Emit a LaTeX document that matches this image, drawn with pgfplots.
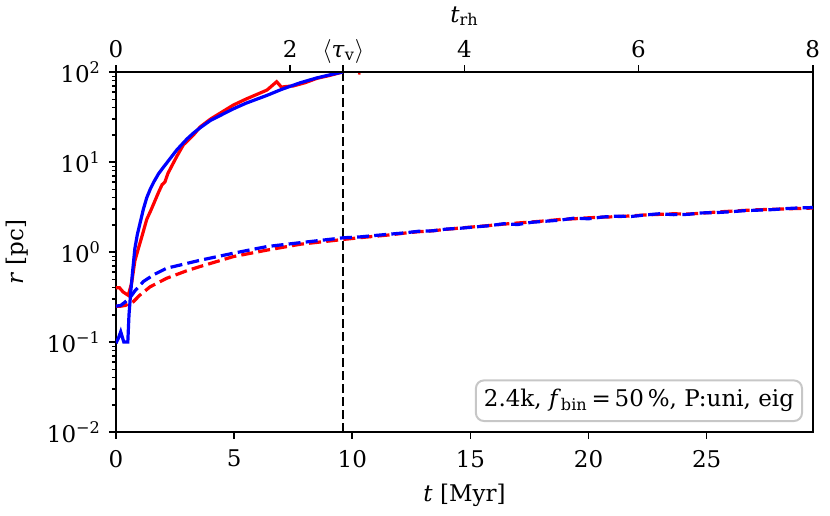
\documentclass[border=0pt]{standalone}
\usepackage{fontspec}
\setmainfont{DejaVu Serif}
\usepackage{pgfplots}
\pgfplotsset{compat=1.18}
\begin{document}
\fontsize{11.5}{13.8}\selectfont
\begin{tikzpicture}
\begin{axis}[
  name=main,
  scale only axis, width=348.5pt, height=180pt,
  xmin=0, xmax=29.5,
  ymode=log, ymin=1e-2, ymax=1e2,
  axis line style={line width=0.9pt},
  tick align=outside,
  xtick pos=left, ytick pos=left,
  major tick length=3.5pt, minor tick length=2pt,
  every tick/.style={black, line width=0.8pt},
  every minor tick/.style={black, line width=0.6pt},
  xtick={0,5,10,15,20,25},
  xticklabels={0,5,10,15,20,25},
  xticklabel style={anchor=north, yshift=-1.5pt},
  ytick={1e-2,1e-1,1,10,100},
  yticklabels={10\textsuperscript{−2},10\textsuperscript{−1},10\textsuperscript{0},10\textsuperscript{1},10\textsuperscript{2}},
  minor ytick={2e-2,3e-2,4e-2,5e-2,6e-2,7e-2,8e-2,9e-2,2e-1,3e-1,4e-1,5e-1,6e-1,7e-1,8e-1,9e-1,2,3,4,5,6,7,8,9,20,30,40,50,60,70,80,90},
  xlabel={\textit{t} [Myr]},
  ylabel={\textit{r} [pc]},
  every axis y label/.style={at={(rel axis cs:0,0.5)}, anchor=center, rotate=90, yshift=49.5pt},
  every axis x label/.style={at={(rel axis cs:0.5,0)}, anchor=base, yshift=-34.5pt},
  clip=true,
]
% vertical line <tau_v>
\addplot[black, line width=1.2pt, dash pattern=on 4.5pt off 2pt] coordinates {(9.62,1e-2) (9.62,1e2)};
% red dashed
\addplot[red, line width=1.6pt, dash pattern=on 6pt off 2.6pt] coordinates {
(0,0.25) (0.2,0.25) (0.4,0.255) (0.6,0.27) (0.73,0.28) (1.0,0.33) (1.44,0.41) (2.14,0.51) (3.0,0.62) (3.56,0.69) (4.97,0.89) (6.39,1.05) (7.8,1.22) (9.63,1.38)
(10.3,1.44) (11,1.50) (11.6,1.55) (12.2,1.62) (12.8,1.68) (13.4,1.72) (14,1.79) (14.6,1.85) (15.2,1.91) (15.8,1.97) (16.4,2.04) (17,2.10) (17.6,2.16) (18.2,2.22) (18.8,2.30) (19.4,2.34) (20,2.40) (20.6,2.44) (21.2,2.47) (21.8,2.52) (22.4,2.58) (23,2.62) (23.6,2.66) (24.2,2.64) (24.8,2.70) (25.4,2.78) (26,2.84) (26.6,2.90) (27.2,2.95) (27.8,2.98) (28.4,3.02) (29,3.05) (29.5,3.08)
};
% blue dashed
\addplot[blue, line width=1.6pt, dash pattern=on 6pt off 2.6pt] coordinates {
(0,0.25) (0.2,0.255) (0.4,0.28) (0.59,0.31) (0.8,0.37) (1.16,0.47) (1.6,0.56) (2.14,0.66) (3.56,0.81) (4.97,0.97) (6.39,1.15) (7.8,1.27) (9.63,1.44)
(10.3,1.47) (11,1.53) (11.6,1.58) (12.2,1.63) (12.8,1.70) (13.4,1.72) (14,1.80) (14.6,1.84) (15.2,1.90) (15.8,1.96) (16.4,2.06) (17,2.02) (17.6,2.14) (18.2,2.20) (18.8,2.26) (19.4,2.38) (20,2.34) (20.6,2.45) (21.2,2.50) (21.8,2.48) (22.4,2.58) (23,2.66) (23.6,2.60) (24.2,2.62) (24.8,2.72) (25.4,2.74) (26,2.80) (26.6,2.88) (27.2,2.92) (27.8,2.96) (28.4,3.04) (29,3.10) (29.5,3.12)
};
% red solid
\addplot[red, line width=1.6pt] coordinates {
(0,0.40) (0.15,0.40) (0.3,0.36) (0.52,0.33) (0.66,0.45) (0.8,0.8) (0.95,1.1) (1.1,1.5) (1.3,2.3) (1.5,3.0) (1.8,4.6) (1.95,5.6) (2.07,6.0) (2.2,7.5) (2.57,11.5) (2.85,15.5) (3.28,20) (3.56,24.5) (4.0,30) (4.97,43) (5.5,50) (6.39,63) (6.8,78) (7.0,68) (7.2,69) (7.5,70) (8.0,76) (8.5,85) (9.0,91) (9.6,100)
};
\addplot[red, line width=1.6pt] coordinates {(10.25,98) (10.35,97)};
% blue solid
\addplot[blue, line width=1.6pt] coordinates {
(0,0.097) (0.1,0.11) (0.2,0.13) (0.33,0.10) (0.5,0.10) (0.55,0.2) (0.62,0.35) (0.7,0.6) (0.8,1.1) (0.9,1.55) (1.0,2.0) (1.16,3.0) (1.3,4.0) (1.45,5.0) (1.6,6.0) (1.8,7.4) (2.0,8.7) (2.3,11.0) (2.57,13.6) (3.0,18) (3.28,21) (3.56,24) (4.0,29) (4.97,39) (5.5,45) (6.39,55) (7.0,64) (7.8,76) (8.5,86) (9.2,95) (9.6,100)
};
\node[draw=black!22, line width=1pt, rounded corners=4pt, fill=white, anchor=south east, inner xsep=4pt, inner ysep=4.5pt, xshift=-5pt, yshift=5pt] at (rel axis cs:1,0)
  {2.4k, \textit{f}\textsubscript{bin}\,=\,50\,\%, P:uni, eig};
\end{axis}
\begin{axis}[
  scale only axis, width=348.5pt, height=180pt,
  xmin=0, xmax=29.5, ymin=0, ymax=1,
  axis x line*=top, hide y axis,
  axis line style={line width=0.9pt, -},
  tick align=outside,
  major tick length=3.5pt,
  every tick/.style={black, line width=0.8pt},
  xtick={0,7.372,14.744,22.116,29.488},
  xticklabels={0,2,4,6,8},
  extra x ticks={9.62},
  extra x tick labels={$\langle$\textit{τ}\textsubscript{v}$\rangle$},
  every x tick label/.append style={anchor=base, yshift=4pt},
  xlabel={\textit{t}\textsubscript{rh}},
  every axis x label/.style={at={(rel axis cs:0.5,1)}, anchor=base, yshift=25pt},
]
\addplot[draw=none] coordinates {(0,0) (1,1)};
\end{axis}
\pgfresetboundingbox
\path[use as bounding box] ([shift={(-58pt,-41.5pt)}]main.south west) rectangle ([shift={(8.5pt,36pt)}]main.north east);
\end{tikzpicture}
\end{document}
